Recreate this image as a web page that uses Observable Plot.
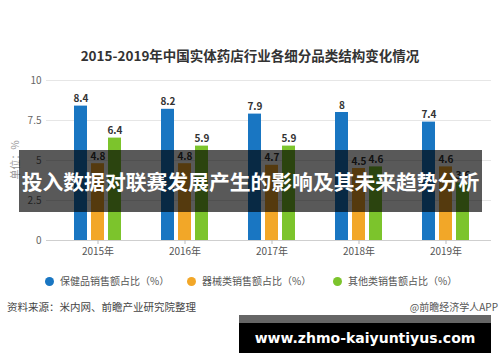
<!DOCTYPE html>
<html>
<head>
<meta charset="utf-8">
<script src="https://cdn.jsdelivr.net/npm/d3@7"></script>
<script src="https://cdn.jsdelivr.net/npm/@observablehq/plot@0.6"></script>
<style>
  html, body { margin: 0; padding: 0; background: #fff; }
  body { width: 500px; height: 362px; position: relative; overflow: hidden; font-family: "Noto Sans CJK SC", "Noto Sans", sans-serif; }
  .abs { position: absolute; }
  #title { left: 0; top: 44px; width: 500px; text-align: center; font-size: 13.5px; font-weight: bold; color: #333; line-height: 22px; }
  #chart { left: 0; top: 70px; }
  #ylabel { left: 14px; top: 160px; transform: translate(-50%, -50%) rotate(-90deg); font-size: 10px; color: #999; white-space: nowrap; }
  #legend { left: 0; top: 272px; width: 500px; height: 18px; }
  .lg { position: absolute; top: 0; font-size: 10px; color: #555; line-height: 18px; white-space: nowrap; }
  .lg i { display: inline-block; width: 9px; height: 9px; border-radius: 50%; vertical-align: -1px; margin-right: 6px; }
  #source { left: 7px; top: 298px; font-size: 10.5px; color: #444; line-height: 18px; }
  #credit { left: 380px; width: 118px; top: 298px; font-size: 10px; color: #555; line-height: 18px; text-align: right; white-space: nowrap; }
  #band { left: 19px; top: 150px; width: 463px; height: 62px; background: rgba(0,0,0,0.65); color: #fff; font-weight: bold; font-size: 20.8px; line-height: 62px; text-align: center; white-space: nowrap; }
  #site { left: 239px; top: 315px; width: 252px; height: 30px; border-top: 8px solid #666; background: #000; color: #fff; font-family: "DejaVu Sans", sans-serif; font-weight: bold; font-size: 14px; line-height: 30px; text-align: center; white-space: nowrap; }
</style>
</head>
<body>
<div id="title" class="abs"></div>
<div id="chart" class="abs"></div>
<div id="ylabel" class="abs"></div>
<div id="legend" class="abs"></div>
<div id="source" class="abs"></div>
<div id="credit" class="abs"></div>
<div id="band" class="abs"></div>
<div id="site" class="abs"></div>
<script>
const titleText = "2015-2019年中国实体药店行业各细分品类结构变化情况";
const yAxisLabel = "单位：%";
const years = ["2015年", "2016年", "2017年", "2018年", "2019年"];
const seriesNames = ["保健品销售额占比（%）", "器械类销售额占比（%）", "其他类销售额占比（%）"];
const healthValues = [8.4, 8.2, 7.9, 8, 7.4];
const deviceValues = [4.8, 4.8, 4.7, 4.5, 4.6];
const otherValues = [6.4, 5.9, 5.9, 4.6, 3.6];
const yTicks = [0, 2.5, 5, 7.5, 10];
const colors = ["#1976c2", "#f2a728", "#7cc42c"];
const sourceText = "资料来源：米内网、前瞻产业研究院整理";
const creditText = "@前瞻经济学人APP";
const bandText = "投入数据对联赛发展产生的影响及其未来趋势分析";
const siteText = "www.zhmo-kaiyuntiyus.com";

const seriesValues = [healthValues, deviceValues, otherValues];
const data = [];
years.forEach((year, i) => {
  seriesNames.forEach((s, j) => {
    data.push({year, series: s, value: seriesValues[j][i]});
  });
});

const chart = Plot.plot({
  width: 500,
  height: 190,
  marginLeft: 54,
  marginRight: 11,
  marginTop: 10,
  marginBottom: 20,
  style: {fontFamily: "'Noto Sans CJK SC', sans-serif", background: "transparent", overflow: "visible"},
  fx: {domain: years, paddingInner: 0, paddingOuter: 0, label: null},
  x: {domain: seriesNames, paddingInner: 0.26, paddingOuter: 1.05, axis: null},
  y: {domain: [0, 10], label: null},
  color: {domain: seriesNames, range: colors},
  marks: [
    Plot.ruleY(yTicks.filter(d => d > 0), {stroke: "#e6e6e6", insetLeft: -8, insetRight: -2}),
    Plot.axisY({ticks: yTicks, tickSize: 0, tickPadding: 13, tickFormat: d => String(d), fontSize: 10, color: "#666", label: null}),
    Plot.barY(data, {fx: "year", x: "series", y: "value", fill: "series"}),
    Plot.text(data, {fx: "year", x: "series", y: "value", text: d => String(d.value), lineAnchor: "bottom", dy: -4, fontSize: 10, fontWeight: "bold", fill: "#333"}),
    Plot.ruleY([0], {stroke: "#cfcfcf", insetLeft: -8, insetRight: -2}),
    Plot.axisFx({anchor: "bottom", tickSize: 4, tickPadding: 3, stroke: "#bbb", color: "#555", fontSize: 10, label: null})
  ]
});
document.getElementById("chart").appendChild(chart);

document.getElementById("title").textContent = titleText;
document.getElementById("ylabel").textContent = yAxisLabel;
document.getElementById("source").textContent = sourceText;
document.getElementById("credit").textContent = creditText;
document.getElementById("band").textContent = bandText;
document.getElementById("site").textContent = siteText;

const legendX = [45, 187, 333];
const legend = document.getElementById("legend");
seriesNames.forEach((s, i) => {
  const el = document.createElement("div");
  el.className = "lg";
  el.style.left = legendX[i] + "px";
  const dot = document.createElement("i");
  dot.style.background = colors[i];
  el.appendChild(dot);
  el.appendChild(document.createTextNode(s));
  legend.appendChild(el);
});
</script>
</body>
</html>
